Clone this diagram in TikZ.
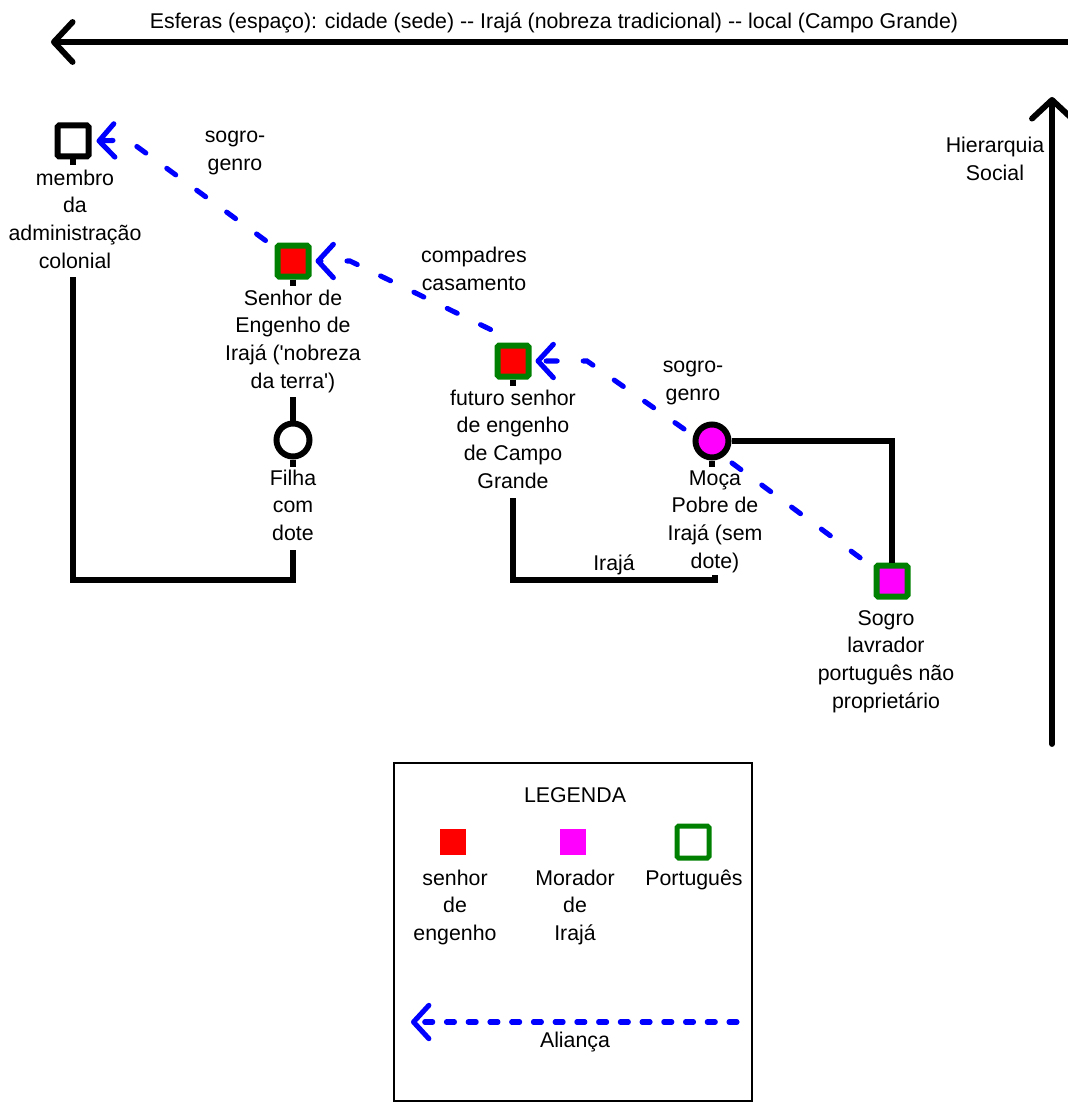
\documentclass[tikz,border=0pt]{standalone}
\usepackage{fontspec}
\setmainfont{Liberation Sans}
\usetikzlibrary{arrows.meta,calc}
\definecolor{senhorred}{RGB}{255,0,0}
\definecolor{moradormag}{RGB}{255,0,255}
\definecolor{portgreen}{RGB}{0,128,0}
\definecolor{allyblue}{RGB}{0,0,255}
\begin{document}
\begin{tikzpicture}[x=0.75pt,y=-0.75pt,
  % multi-line labels are placed by the baseline of their last line
  txt/.style={font=\fontsize{16}{20.8}\selectfont, align=center, inner sep=0pt, anchor=base},
  kin/.style={line width=3.8pt, black},
  axis/.style={line width=4.4pt, black, line cap=round,
    -{Straight Barb[length=14pt,width=30pt,round]}},
  ally/.style={line width=3.8pt, allyblue, line cap=round,
    dash pattern=on 8.3pt off 19.5pt,
    -{Straight Barb[length=11.5pt,width=25pt,round]}},
  allyplain/.style={line width=3.8pt, allyblue, line cap=round,
    dash pattern=on 8.3pt off 19.5pt},
  person/.style={rectangle, minimum size=23.25pt, inner sep=0pt,
    line width=4.5pt, rounded corners=1.2pt},
  woman/.style={circle, minimum size=24.75pt, inner sep=0pt, line width=4.5pt},
  swatch/.style={rectangle, minimum size=19.5pt, inner sep=0pt}
]
\useasboundingbox (0,0) rectangle (1067,1102);

% ---- axes: space (horizontal) and social hierarchy (vertical)
\coordinate (spaceR) at (1075,42);
\coordinate (spaceL) at (51,42);
\draw[axis] (spaceR) -- (spaceL);
\node[txt] (spaceLbl) at (554,29) {Esferas (espaço): cidade (sede) -{}- Irajá (nobreza tradicional) -{}- local (Campo Grande)};

\coordinate (hierB) at (1052,744);
\coordinate (hierT) at (1052,97);
\draw[axis] (hierB) -- (hierT);
\node[txt] (hierLbl) at (995,180.7) {Hierarquia\\Social};

% ---- people
\node[person, draw=black, fill=white] (membro) at (73,141) {};
\node[txt] (membroLbl) at (75,268.2) {membro\\da\\administração\\colonial};

\node[person, draw=portgreen, fill=senhorred] (senhor) at (293,261) {};
\node[txt] (senhorLbl) at (293,388.2) {Senhor de\\Engenho de\\Irajá (\textquotesingle nobreza\\da terra\textquotesingle)};

\node[woman, draw=black, fill=white] (filha) at (293,440) {};
\node[txt] (filhaLbl) at (293,540.5) {Filha\\com\\dote};

\node[person, draw=portgreen, fill=senhorred] (futuro) at (513,361) {};
\node[txt] (futuroLbl) at (513,488.2) {futuro senhor\\de engenho\\de Campo\\Grande};

\node[woman, draw=black, fill=moradormag] (moca) at (712,441) {};
\node[txt] (mocaLbl) at (715,568.2) {Moça\\Pobre de\\Irajá (sem\\dote)};

\node[person, draw=portgreen, fill=moradormag] (sogro) at (892,581) {};
\node[txt] (sogroLbl) at (886,708.2) {Sogro\\lavrador\\português não\\proprietário};

% ---- kinship lines
\draw[kin] (membro.south) -- ++(0,6);
\draw[kin] (senhor.south) -- ++(0,6);
\draw[kin] (futuro.south) -- ++(0,6);
\draw[kin] (moca.south) -- ++(0,6);
\draw[kin] (filha.south) -- ++(0,7);

\coordinate (senhorDown) at (293,397);
\draw[kin] (senhorDown) -- (filha.north);

\coordinate (membroDown) at (73,277);
\coordinate (filhaDown) at (293,550);
\draw[kin] (membroDown) |- (filhaDown |- 0,580) -- (filhaDown);

\coordinate (futuroDown) at (513,498);
\coordinate (mocaDown) at (715,575);
\draw[kin] (futuroDown) |- (mocaDown |- 0,580) -- (mocaDown);
\node[txt] (irajaLbl) at (614,570) {Irajá};

\draw[kin] (moca.east) -| (sogro.north);

% ---- alliances
\draw[ally] ($(senhor.north west)+(-9,-2)$) -- (128,140) -- ($(membro.east)+(5,0)$);
\node[txt] (allyA) at (235,170.7) {sogro-\\genro};

\draw[ally] ($(futuro.north west)+(-4,-13)$) -- (350,261) -- ($(senhor.east)+(4,0)$);
\node[txt] (allyB) at (474,290.7) {compadres\\casamento};

\draw[ally] ($(moca.center)+(-28,-12)$) -- (587,361) -- ($(futuro.east)+(4,0)$);
\node[txt] (allyC) at (693,400.7) {sogro-\\genro};

\draw[allyplain] ($(moca.center)+(20,22)$) -- ($(sogro.north west)+(-7,0)$);

% ---- legend
\node[draw=black, line width=1.6pt, anchor=north west, minimum width=268.5pt,
  minimum height=253.5pt, inner sep=0pt] (legend) at (393,762) {};
\node[txt] (legTitle) at (575,802) {LEGENDA};
\node[swatch, fill=senhorred] (legSenhor) at (453,842) {};
\node[swatch, fill=moradormag] (legMorador) at (573,842) {};
\node[rectangle, minimum size=24pt, inner sep=0pt, line width=3.75pt,
  rounded corners=1.2pt, draw=portgreen] (legPort) at (693,842) {};
\node[txt] (legSenhorLbl) at (455,940.5) {senhor\\de\\engenho};
\node[txt] (legMoradorLbl) at (575,940.5) {Morador\\de\\Irajá};
\node[txt] (legPortLbl) at (694,885) {Português};
\coordinate (legAllyR) at (737,1022);
\coordinate (legAllyL) at (411,1022);
\draw[ally, dash pattern=on 6pt off 10.3pt] (legAllyR) -- (legAllyL);
\node[txt] (legAllyLbl) at (575,1047) {Aliança};
\end{tikzpicture}
\end{document}
